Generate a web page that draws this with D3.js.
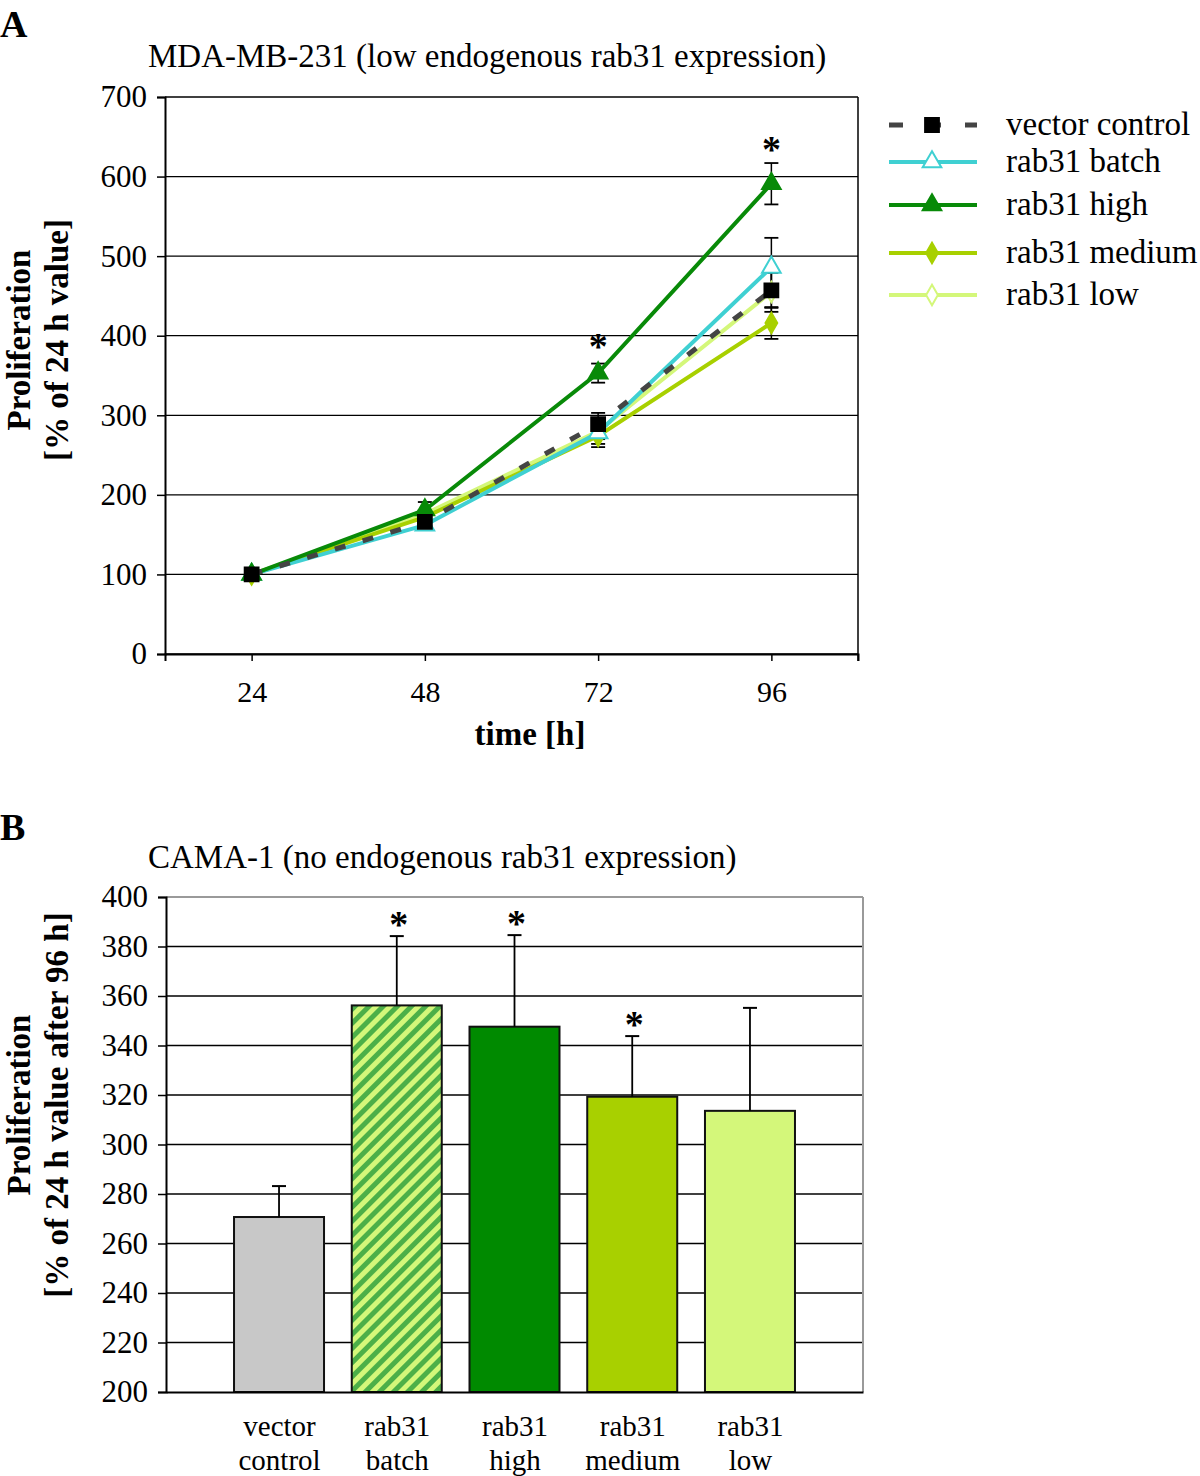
<!DOCTYPE html>
<html><head><meta charset="utf-8">
<script src="https://cdn.jsdelivr.net/npm/d3@7"></script>
<style>body{margin:0;background:#fff}svg text{font-family:"Liberation Serif","Times New Roman",serif;fill:#000}</style>
</head><body>
<svg id="c" width="1200" height="1476"></svg>
<script>
// ---------- Panel A data ----------
const timesA = [24, 48, 72, 96];
const seriesNames = ["vector control", "rab31 batch", "rab31 high", "rab31 medium", "rab31 low"];
const vectorVals = [100, 166, 289, 457];
const batchVals  = [100, 162, 278, 486];
const highVals   = [100, 181, 353, 591];
const mediumVals = [100, 172, 274, 416];
const lowVals    = [100, 176, 280, 455];
const vectorErr = [0, 5, 14, 22];
const batchErr  = [0, 4, 18, 37];
const highErr   = [0, 10, 12, 26];
const mediumErr = [0, 5, 10, 20];
const lowErr    = [0, 5, 10, 25];
const yTicksA = [0, 100, 200, 300, 400, 500, 600, 700];
const starsA = [{t: 72, v: 392}, {t: 96, v: 640}];

// ---------- Panel B data ----------
const barCats = [["vector", "control"], ["rab31", "batch"], ["rab31", "high"], ["rab31", "medium"], ["rab31", "low"]];
const barVals = [270.7, 356.2, 347.6, 319.3, 313.6];
const barErr  = [12.5, 28.0, 37.0, 24.5, 41.6];
const barStar = [false, true, true, true, false];
const yTicksB = [200, 220, 240, 260, 280, 300, 320, 340, 360, 380, 400];

const svg = d3.select("#c");
const serif = "'Liberation Serif','Times New Roman',serif";
const starFont = "'DejaVu Sans',sans-serif";
const starSize = 38;

// pattern
const defs = svg.append("defs");
const P = 10;
const pat = defs.append("pattern").attr("id", "hatch").attr("patternUnits", "userSpaceOnUse")
  .attr("width", P).attr("height", P).attr("patternTransform", "rotate(45)");
pat.append("rect").attr("width", P).attr("height", P).attr("fill", "#d4f77a");
pat.append("rect").attr("width", P * 0.5).attr("height", P).attr("fill", "#4caf48");

// ================= Panel A =================
const A = {l: 165, r: 858, t: 97, b: 654};
const xA = d3.scaleLinear().domain([12, 108]).range([A.l, A.r]);
const yA = d3.scaleLinear().domain([0, 700]).range([A.b, A.t]);

svg.append("text").attr("x", 0).attr("y", 37).attr("font-size", 38).attr("font-weight", "bold").text("A");
svg.append("text").attr("x", 148).attr("y", 67).attr("font-size", 33).text("MDA-MB-231 (low endogenous rab31 expression)");

const gA = svg.append("g");
gA.selectAll("line.grid").data(yTicksA).join("line")
  .attr("x1", A.l).attr("x2", A.r).attr("y1", d => yA(d)).attr("y2", d => yA(d))
  .attr("stroke", "#000").attr("stroke-width", 1.3);
gA.append("line").attr("x1", A.r).attr("x2", A.r).attr("y1", A.t).attr("y2", A.b).attr("stroke", "#000").attr("stroke-width", 1.5);

const axLA = gA.append("g").attr("transform", `translate(${A.l},0)`)
  .call(d3.axisLeft(yA).tickValues(yTicksA).tickSize(8).tickPadding(10).tickFormat(d3.format("d")));
axLA.select(".domain").attr("stroke-width", 2);
axLA.selectAll("text").attr("font-size", 31).attr("font-family", serif);
axLA.selectAll(".tick line").attr("stroke-width", 1.5);

const axBA = gA.append("g").attr("transform", `translate(0,${A.b})`)
  .call(d3.axisBottom(xA).tickValues(timesA).tickSize(7).tickPadding(20).tickFormat(d3.format("d")));
axBA.select(".domain").attr("stroke-width", 2);
axBA.selectAll("text").attr("font-size", 30).attr("font-family", serif);
axBA.selectAll(".tick line").attr("stroke-width", 1.5);
gA.append("line").attr("x1", A.r).attr("x2", A.r).attr("y1", A.b).attr("y2", A.b + 7).attr("stroke", "#000").attr("stroke-width", 1.5);

svg.append("text").attr("x", 530).attr("y", 745).attr("text-anchor", "middle").attr("font-size", 33).attr("font-weight", "bold").text("time [h]");

function yTitle(cx, cy, lines) {
  const t = svg.append("text").attr("transform", `translate(${cx},${cy}) rotate(-90)`)
    .attr("text-anchor", "middle").attr("font-size", 33).attr("font-weight", "bold");
  t.append("tspan").attr("x", 0).attr("y", 0).text(lines[0]);
  t.append("tspan").attr("x", 0).attr("y", 38).text(lines[1]);
}
yTitle(30, 340, ["Proliferation", "[% of 24 h value]"]);

const series = [
  {name: seriesNames[4], vals: lowVals, err: lowErr, color: "#d4f77a", marker: "diamond", fill: "#fff", w: 4},
  {name: seriesNames[3], vals: mediumVals, err: mediumErr, color: "#a8d000", marker: "diamond", fill: "#a8d000", w: 4},
  {name: seriesNames[1], vals: batchVals, err: batchErr, color: "#3fd0d2", marker: "triangle", fill: "#fff", w: 4},
  {name: seriesNames[2], vals: highVals, err: highErr, color: "#088a08", marker: "triangle", fill: "#088a08", w: 4},
  {name: seriesNames[0], vals: vectorVals, err: vectorErr, color: "#444", marker: "square", fill: "#000", w: 5, dash: "11,18"}
];

// error bars
series.forEach(s => {
  const eb = gA.append("g");
  timesA.forEach((t, i) => {
    if (!s.err[i]) return;
    const x = xA(t), y1 = yA(s.vals[i] + s.err[i]), y2 = yA(s.vals[i] - s.err[i]);
    eb.append("line").attr("x1", x).attr("x2", x).attr("y1", y1).attr("y2", y2).attr("stroke", "#000").attr("stroke-width", 1.5);
    [y1, y2].forEach(y => eb.append("line").attr("x1", x - 7).attr("x2", x + 7).attr("y1", y).attr("y2", y).attr("stroke", "#000").attr("stroke-width", 1.8));
  });
});

const lineA = d3.line().x((d, i) => xA(timesA[i])).y(d => yA(d));
function markerPath(m) {
  if (m === "square") return d3.symbol(d3.symbolSquare, 190)();
  if (m === "triangle") return d3.symbol(d3.symbolTriangle, 150)();
  return d3.symbol(d3.symbolDiamond, 120)();
}
series.forEach(s => {
  gA.append("path").datum(s.vals).attr("d", lineA).attr("fill", "none")
    .attr("stroke", s.color).attr("stroke-width", s.w).attr("stroke-dasharray", s.dash || null);
});
series.forEach(s => {
  gA.selectAll(null).data(s.vals).join("path")
    .attr("transform", (d, i) => `translate(${xA(timesA[i])},${yA(d)})`)
    .attr("d", markerPath(s.marker)).attr("fill", s.fill)
    .attr("stroke", s.marker === "square" ? "#000" : s.color).attr("stroke-width", 2);
});

gA.selectAll("text.star").data(starsA).join("text")
  .attr("x", d => xA(d.t)).attr("y", d => yA(d.v) + 17).attr("text-anchor", "middle")
  .attr("font-size", starSize).attr("font-weight", "bold").attr("font-family", starFont).text("*");

// legend
const legRows = [
  {s: series[4], y: 125}, {s: series[2], y: 162}, {s: series[3], y: 205},
  {s: series[1], y: 253}, {s: series[0], y: 295}
];
const lg = svg.append("g");
legRows.forEach(r => {
  lg.append("line").attr("x1", 889).attr("x2", 977).attr("y1", r.y).attr("y2", r.y)
    .attr("stroke", r.s.color).attr("stroke-width", r.s.w)
    .attr("stroke-dasharray", r.s.dash ? "14,24" : null);
  lg.append("path").attr("transform", `translate(932,${r.y})`).attr("d", markerPath(r.s.marker))
    .attr("fill", r.s.fill).attr("stroke", r.s.marker === "square" ? "#000" : r.s.color).attr("stroke-width", 2);
  lg.append("text").attr("x", 1006).attr("y", r.y + 10).attr("font-size", 33).text(r.s.name);
});

// ================= Panel B =================
const B = {l: 166, r: 863, t: 897, b: 1392};
const xB = d3.scalePoint().domain(d3.range(barCats.length)).range([B.l, B.r]).padding(0.96);
const yB = d3.scaleLinear().domain([200, 400]).range([B.b, B.t]);

svg.append("text").attr("x", 0).attr("y", 840).attr("font-size", 38).attr("font-weight", "bold").text("B");
svg.append("text").attr("x", 148).attr("y", 868).attr("font-size", 33).text("CAMA-1 (no endogenous rab31 expression)");

const gB = svg.append("g");
gB.selectAll("line.grid").data(yTicksB.slice(1, -1)).join("line")
  .attr("x1", B.l).attr("x2", B.r).attr("y1", d => yB(d)).attr("y2", d => yB(d))
  .attr("stroke", "#000").attr("stroke-width", 1.3);
gB.append("line").attr("x1", B.l).attr("x2", B.r).attr("y1", B.t).attr("y2", B.t).attr("stroke", "#9a9a9a").attr("stroke-width", 2);
gB.append("line").attr("x1", B.r).attr("x2", B.r).attr("y1", B.t).attr("y2", B.b).attr("stroke", "#9a9a9a").attr("stroke-width", 2);

const barFills = ["#c8c8c8", "url(#hatch)", "#008a00", "#a8d000", "#d4f77a"];
const bw = 90;
gB.selectAll("rect.bar").data(barVals).join("rect")
  .attr("x", (d, i) => xB(i) - bw / 2).attr("width", bw)
  .attr("y", d => yB(d)).attr("height", d => B.b - yB(d))
  .attr("fill", (d, i) => barFills[i]).attr("stroke", "#111").attr("stroke-width", 2);

gB.selectAll("line.err").data(barVals).join("line")
  .attr("x1", (d, i) => xB(i)).attr("x2", (d, i) => xB(i))
  .attr("y1", d => yB(d)).attr("y2", (d, i) => yB(d + barErr[i])).attr("stroke", "#000").attr("stroke-width", 1.8);
gB.selectAll("line.cap").data(barVals).join("line")
  .attr("x1", (d, i) => xB(i) - 7).attr("x2", (d, i) => xB(i) + 7)
  .attr("y1", (d, i) => yB(d + barErr[i])).attr("y2", (d, i) => yB(d + barErr[i])).attr("stroke", "#000").attr("stroke-width", 2);
const starIdx = d3.range(barVals.length).filter(i => barStar[i]);
gB.selectAll("text.star").data(starIdx).join("text")
  .attr("x", i => xB(i) + 2).attr("y", i => yB(barVals[i] + barErr[i]) - 16 + 17)
  .attr("text-anchor", "middle").attr("font-size", starSize).attr("font-weight", "bold")
  .attr("font-family", starFont).text("*");

const axLB = gB.append("g").attr("transform", `translate(${B.l},0)`)
  .call(d3.axisLeft(yB).tickValues(yTicksB).tickSize(8).tickPadding(10).tickFormat(d3.format("d")));
axLB.select(".domain").attr("stroke-width", 2);
axLB.selectAll("text").attr("font-size", 31).attr("font-family", serif);
axLB.selectAll(".tick line").attr("stroke-width", 1.5);

const axBB = gB.append("g").attr("transform", `translate(0,${B.b})`)
  .call(d3.axisBottom(xB).tickSize(0).tickFormat(() => ""));
axBB.select(".domain").attr("stroke-width", 2);
axBB.selectAll(".tick").each(function (d) {
  const t = d3.select(this).append("text").attr("text-anchor", "middle").attr("font-size", 29).attr("font-family", serif).attr("fill", "#000");
  t.append("tspan").attr("x", 0).attr("y", 44).text(barCats[d][0]);
  t.append("tspan").attr("x", 0).attr("y", 78).text(barCats[d][1]);
});

yTitle(30, 1105, ["Proliferation", "[% of 24 h value after 96 h]"]);
</script>
</body></html>
